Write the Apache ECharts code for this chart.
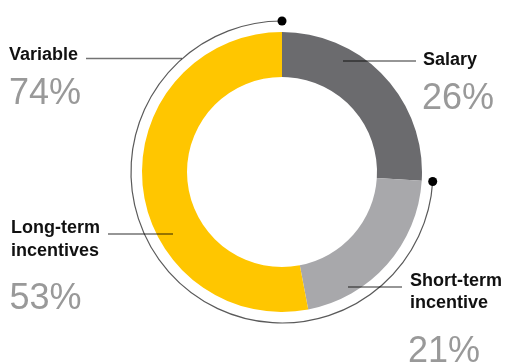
<!DOCTYPE html>
<html>
<head>
<meta charset="utf-8">
<script src="https://cdn.jsdelivr.net/npm/echarts@6/dist/echarts.min.js"></script>
<style>
html,body{margin:0;padding:0;background:#fff;}
#chart{width:505px;height:364px;}
</style>
</head>
<body>
<div id="chart"></div>
<script>
// ---- data ----
var categories = ['Salary', 'Short-term incentive', 'Long-term incentives'];
var labelTexts = ['Salary', 'Short-term\nincentive', 'Long-term\nincentives'];
var values = [26, 21, 53];
var groupName = 'Variable';
var groupMembers = [1, 2]; // indices in the variable group

// ---- styling / layout ----
var colors = ['#6b6b6e', '#a8a8ab', '#ffc600'];
var FONT = '"Liberation Sans", Arial, Helvetica, sans-serif';
var cx = 282, cy = 172, rIn = 95, rOut = 140, rArc = 151;

var total = values.reduce(function (a, b) { return a + b; }, 0);
var variableVal = groupMembers.reduce(function (s, i) { return s + values[i]; }, 0);

var chart = echarts.init(document.getElementById('chart'), null, { renderer: 'canvas' });

var salaryFrac = values[0] / total;
var a0 = -Math.PI / 2 + 2 * Math.PI * salaryFrac;
var a1 = -Math.PI / 2 + 2 * Math.PI;

var labelLayout = [
  { title: groupName, pct: variableVal, tx: 9, ty: 55.5, px: 9, py: 94.5, line: [86, 182, 58.5] },
  { title: labelTexts[0], pct: values[0], tx: 423, ty: 60.5, px: 422, py: 99.2, line: [343, 416, 61] },
  { title: labelTexts[2], pct: values[2], tx: 11, ty: 239.5, px: 9.5, py: 299.2, line: [108, 173, 234] },
  { title: labelTexts[1], pct: values[1], tx: 410, ty: 292, px: 408, py: 352, line: [348, 402, 287] }
];

var graphics = [];
graphics.push({
  type: 'arc', silent: true, z: 100,
  shape: { cx: cx, cy: cy, r: rArc, startAngle: a0, endAngle: a1, clockwise: true },
  style: { stroke: '#5a5a5a', lineWidth: 1.2, fill: null }
});
[a0, a1].forEach(function (a) {
  graphics.push({
    type: 'circle', silent: true, z: 101,
    shape: { cx: cx + rArc * Math.cos(a), cy: cy + rArc * Math.sin(a), r: 4.5 },
    style: { fill: '#000' }
  });
});
labelLayout.forEach(function (L) {
  graphics.push({
    type: 'line', silent: true, z: 102,
    shape: { x1: L.line[0], y1: L.line[2], x2: L.line[1], y2: L.line[2] },
    style: { stroke: 'rgba(0,0,0,0.55)', lineWidth: 1.3 }
  });
  graphics.push({
    type: 'text', silent: true, z: 102,
    style: {
      text: L.title, x: L.tx, y: L.ty, fill: '#111',
      font: 'bold 18px ' + FONT, lineHeight: 22.6,
      textAlign: 'left', textVerticalAlign: 'middle'
    }
  });
  graphics.push({
    type: 'text', silent: true, z: 102,
    style: {
      text: L.pct + '%', x: L.px, y: L.py, fill: '#999999',
      font: '36px ' + FONT,
      textAlign: 'left', textVerticalAlign: 'middle'
    }
  });
});

chart.setOption({
  animation: false,
  backgroundColor: '#ffffff',
  series: [{
    type: 'pie',
    center: [cx, cy],
    radius: [rIn, rOut],
    startAngle: 90,
    clockwise: true,
    silent: true,
    z: 1,
    label: { show: false },
    labelLine: { show: false },
    itemStyle: { borderWidth: 0 },
    emphasis: { disabled: true },
    data: categories.map(function (c, i) {
      return { name: c, value: values[i], itemStyle: { color: colors[i] } };
    })
  }],
  graphic: { elements: graphics, z: 50 }
});
</script>
</body>
</html>
